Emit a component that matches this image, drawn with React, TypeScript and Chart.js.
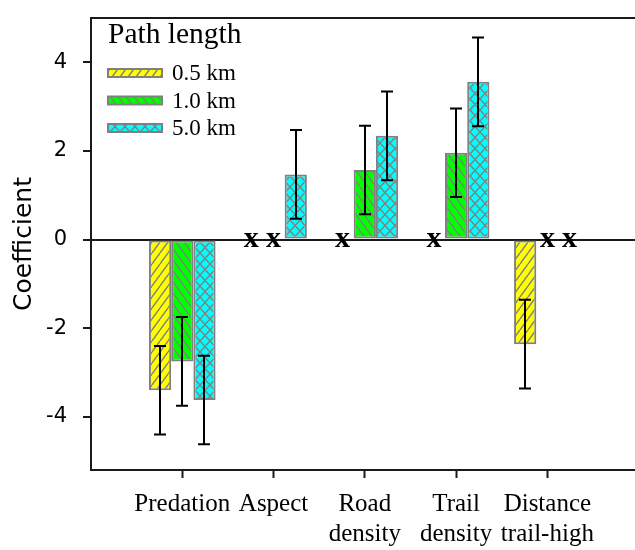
import React, { useEffect, useRef } from 'react';
import { Chart, registerables } from 'chart.js';

Chart.register(...registerables);

// ---- data ----
const categories: string[][] = [
  ['Predation'],
  ['Aspect'],
  ['Road', 'density'],
  ['Trail', 'density'],
  ['Distance', 'trail-high'],
];
const seriesLabels = ['0.5 km', '1.0 km', '5.0 km'];
const values05: (number | null)[] = [-3.4, null, null, null, -2.36];
const values10: (number | null)[] = [-2.75, null, 1.57, 1.96, null];
const values50: (number | null)[] = [-3.62, 1.47, 2.34, 3.56, null];
const errors05: (number | null)[] = [1.0, null, null, null, 1.0];
const errors10: (number | null)[] = [1.0, null, 1.0, 1.0, null];
const errors50: (number | null)[] = [1.0, 1.0, 1.0, 1.0, null];
const yTickStep = 2;
const yMin = -5.2;
const yMax = 5;
const legendTitle = 'Path length';
const yTitle = 'Coefficient';
const notSignificantMark = 'x';

const FRAME = '#1a1a1a';
const HATCH = '#808080';

function makePattern(bg: string, kind: 'fwd' | 'back' | 'cross', w: number, h: number) {
  const c = document.createElement('canvas');
  c.width = w;
  c.height = h;
  const g = c.getContext('2d')!;
  g.fillStyle = bg;
  g.fillRect(0, 0, w, h);
  g.strokeStyle = HATCH;
  g.lineWidth = 1.4;
  g.beginPath();
  for (const dx of [-w, 0, w]) {
    if (kind !== 'back') {
      g.moveTo(dx, h);
      g.lineTo(dx + w, 0);
    }
    if (kind !== 'fwd') {
      g.moveTo(dx, 0);
      g.lineTo(dx + w, h);
    }
  }
  g.stroke();
  return g.createPattern(c, 'repeat')!;
}

export default function App() {
  const ref = useRef<HTMLCanvasElement | null>(null);

  useEffect(() => {
    const canvas = ref.current;
    if (!canvas) return;

    const fills = [
      makePattern('#ffff00', 'fwd', 8, 11),
      makePattern('#00ff00', 'back', 8, 11),
      makePattern('#00ffff', 'cross', 10, 11),
    ];
    const seriesValues = [values05, values10, values50];
    const seriesErrors = [errors05, errors10, errors50];

    const errorBars = {
      id: 'errorBars',
      afterDatasetsDraw(chart: any) {
        const ctx = chart.ctx;
        const yScale = chart.scales.y;
        ctx.save();
        ctx.strokeStyle = '#000';
        ctx.lineWidth = 2;
        seriesValues.forEach((vals, d) => {
          const meta = chart.getDatasetMeta(d);
          vals.forEach((v, j) => {
            const e = seriesErrors[d][j];
            if (v === null || e === null) return;
            const x = Math.round(meta.data[j].x);
            const yTop = yScale.getPixelForValue(v + e);
            const yBot = yScale.getPixelForValue(v - e);
            ctx.beginPath();
            ctx.moveTo(x, yTop);
            ctx.lineTo(x, yBot);
            ctx.moveTo(x - 6, yTop);
            ctx.lineTo(x + 6, yTop);
            ctx.moveTo(x - 6, yBot);
            ctx.lineTo(x + 6, yBot);
            ctx.stroke();
          });
        });
        ctx.restore();
      },
    };

    const markers = {
      id: 'nsMarkers',
      afterDatasetsDraw(chart: any) {
        const ctx = chart.ctx;
        const y0 = chart.scales.y.getPixelForValue(0);
        ctx.save();
        ctx.fillStyle = '#000';
        ctx.font = 'bold 30px "Liberation Serif"';
        ctx.textAlign = 'center';
        ctx.textBaseline = 'alphabetic';
        const m = ctx.measureText(notSignificantMark);
        const off = (m.actualBoundingBoxAscent - m.actualBoundingBoxDescent) / 2;
        seriesValues.forEach((vals, d) => {
          const meta = chart.getDatasetMeta(d);
          vals.forEach((v, j) => {
            if (v !== null) return;
            const x = meta.data[j].x;
            ctx.fillText(notSignificantMark, x, y0 + off);
          });
        });
        ctx.restore();
      },
    };

    const legendBox = {
      id: 'legendBox',
      afterDraw(chart: any) {
        const ctx = chart.ctx;
        const { left, top } = chart.chartArea;
        const x0 = left + 17;
        ctx.save();
        ctx.fillStyle = '#000';
        ctx.textAlign = 'left';
        ctx.textBaseline = 'alphabetic';
        ctx.font = '29.5px "Liberation Serif"';
        ctx.fillText(legendTitle, x0, top + 25);
        ctx.font = '23px "Liberation Serif"';
        ctx.textBaseline = 'middle';
        chart.data.datasets.forEach((ds: any, i: number) => {
          const cy = top + 55 + i * 27.5;
          ctx.fillStyle = ds.backgroundColor;
          ctx.fillRect(x0, cy - 4, 54, 8);
          ctx.strokeStyle = HATCH;
          ctx.lineWidth = 2;
          ctx.strokeRect(x0, cy - 4, 54, 8);
          ctx.fillStyle = '#000';
          ctx.fillText(ds.label, x0 + 64, cy + 1);
        });
        ctx.restore();
      },
    };

    const noPad = (s: any) => {
      s.paddingTop = 0;
      s.paddingBottom = 0;
      s.paddingLeft = 0;
      s.paddingRight = 0;
    };

    const chart = new Chart(canvas, {
      type: 'bar',
      data: {
        datasets: seriesValues.map((vals, d) => ({
          label: seriesLabels[d],
          data: vals.map((v, i) => ({ x: i + 1, y: v })),
          backgroundColor: fills[d],
          borderColor: HATCH,
          borderWidth: 2,
          borderSkipped: false,
        })),
      } as any,
      options: {
        animation: false,
        responsive: false,
        devicePixelRatio: 1,
        layout: { padding: 0 },
        datasets: { bar: { categoryPercentage: 0.73, barPercentage: 1 } } as any,
        plugins: { legend: { display: false }, tooltip: { enabled: false } },
        scales: {
          x: {
            type: 'linear',
            position: 'bottom',
            offset: false,
            min: 0,
            max: 5.96,
            afterFit: (s: any) => {
              s.height = 80;
              noPad(s);
            },
            border: { color: FRAME, width: 2 },
            grid: {
              offset: false,
              drawOnChartArea: false,
              tickLength: 8,
              tickWidth: 2,
              tickColor: (c: any) =>
                c.tick && c.tick.value >= 1 && c.tick.value <= categories.length ? FRAME : 'rgba(0,0,0,0)',
            },
            ticks: {
              stepSize: 1,
              includeBounds: false,
              autoSkip: false,
              maxRotation: 0,
              minRotation: 0,
              padding: 11,
              color: '#000',
              font: { family: '"Liberation Serif"', size: 25 },
              callback: (v: any) => categories[Number(v) - 1] ?? '',
            },
          },
          xTop: {
            type: 'linear',
            position: 'top',
            offset: false,
            min: 0,
            max: 5.96,
            afterFit: (s: any) => {
              s.height = 18;
              noPad(s);
            },
            border: { color: FRAME, width: 2 },
            grid: { offset: false, drawOnChartArea: false, drawTicks: false },
            ticks: { display: false },
          },
          y: {
            min: yMin,
            max: yMax,
            afterFit: (s: any) => {
              s.width = 91;
              noPad(s);
            },
            border: { color: FRAME, width: 2 },
            grid: {
              color: (c: any) => (c.tick && c.tick.value === 0 ? FRAME : 'rgba(0,0,0,0)'),
              lineWidth: 2,
              tickLength: 8,
              tickWidth: 2,
              tickColor: FRAME,
            },
            ticks: {
              stepSize: yTickStep,
              includeBounds: false,
              padding: 16,
              color: '#000',
              font: { family: '"DejaVu Sans"', size: 21 },
            },
            title: {
              display: true,
              text: yTitle,
              color: '#000',
              font: { family: '"DejaVu Sans"', size: 25 },
              padding: { top: 9, bottom: 0 },
            },
          },
        } as any,
      },
      plugins: [errorBars, markers, legendBox],
    });

    return () => chart.destroy();
  }, []);

  return (
    <div style={{ position: 'absolute', left: 0, top: 0, width: 635, height: 550, overflow: 'hidden', background: '#fff' }}>
      <canvas ref={ref} width={635} height={550} style={{ display: 'block' }} />
    </div>
  );
}
